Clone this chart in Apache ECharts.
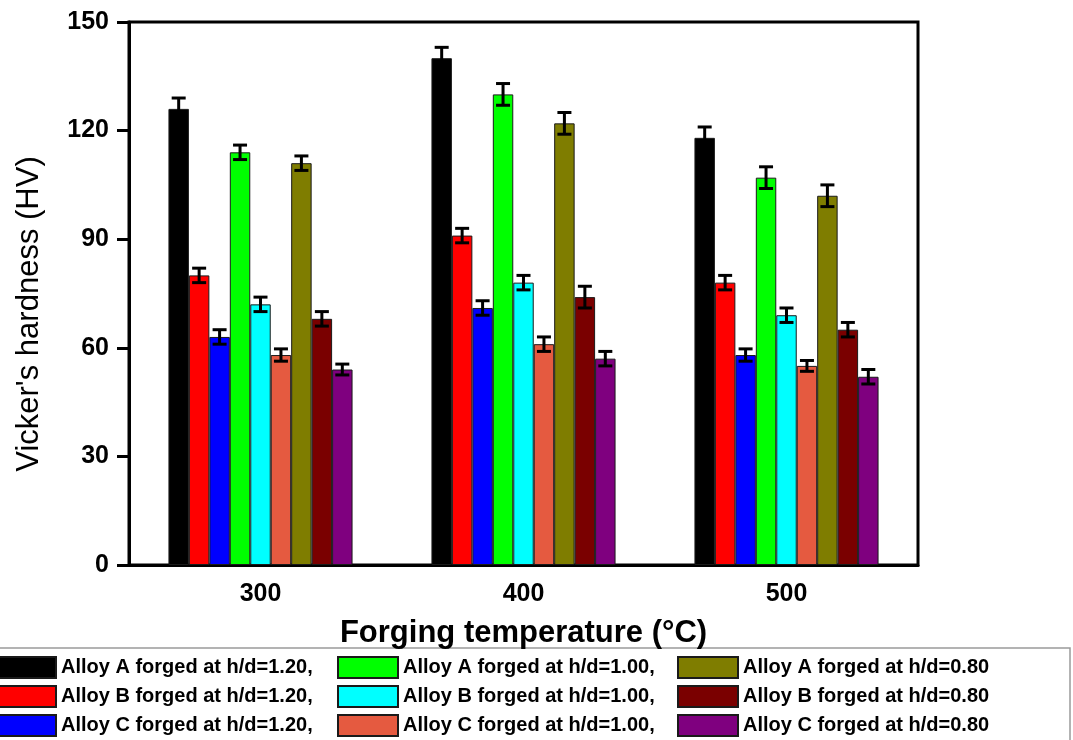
<!DOCTYPE html>
<html>
<head>
<meta charset="utf-8">
<script src="https://cdn.jsdelivr.net/npm/echarts@6/dist/echarts.min.js"></script>
<style>
html,body{margin:0;padding:0;background:#fff;}
#chart{width:1073px;height:740px;}
</style>
</head>
<body>
<div id="chart"></div>
<script>
// ---- data ----
const categories = ['300', '400', '500'];
const seriesNames = [
  'Alloy A forged at h/d=1.20', 'Alloy B forged at h/d=1.20', 'Alloy C forged at h/d=1.20',
  'Alloy A forged at h/d=1.00', 'Alloy B forged at h/d=1.00', 'Alloy C forged at h/d=1.00',
  'Alloy A forged at h/d=0.80', 'Alloy B forged at h/d=0.80', 'Alloy C forged at h/d=0.80'
];
const colors = ['#000000', '#ff0000', '#0000ff', '#00ff00', '#00ffff', '#e55a40', '#7f7d00', '#7a0000', '#7f007f'];
const valuesA120 = [126, 140, 118];
const valuesB120 = [80, 91, 78];
const valuesC120 = [63, 71, 58];
const valuesA100 = [114, 130, 107];
const valuesB100 = [72, 78, 69];
const valuesC100 = [58, 61, 55];
const valuesA080 = [111, 122, 102];
const valuesB080 = [68, 74, 65];
const valuesC080 = [54, 57, 52];
const errA120 = [3, 3, 3];
const errB120 = [2, 2, 2];
const errC120 = [2, 2, 1.7];
const errA100 = [2, 3, 3];
const errB100 = [2, 2, 2];
const errC100 = [1.7, 2, 1.5];
const errA080 = [2, 3, 3];
const errB080 = [2, 3, 2];
const errC080 = [1.5, 2, 2];
const yTicks = [0, 30, 60, 90, 120, 150];
const xTitle = 'Forging temperature (°C)';
const yTitle = "Vicker's hardness (HV)";

const allValues = [valuesA120, valuesB120, valuesC120, valuesA100, valuesB100, valuesC100, valuesA080, valuesB080, valuesC080];
const allErrors = [errA120, errB120, errC120, errA100, errB100, errC100, errA080, errB080, errC080];

const FONT = '"Liberation Sans", Arial, sans-serif';
const CAT_GAP = 0.3;
const N = seriesNames.length;

const barSeries = seriesNames.map((name, i) => ({
  name: name,
  type: 'bar',
  data: allValues[i],
  barGap: '0%',
  barCategoryGap: (CAT_GAP * 100) + '%',
  itemStyle: { color: colors[i], borderColor: '#1a1a1a', borderWidth: 1 },
  z: 2
}));

const errData = [];
allValues.forEach((vals, s) => {
  vals.forEach((v, c) => errData.push([c, s, v, allErrors[s][c]]));
});

const errorSeries = {
  type: 'custom',
  name: 'err',
  z: 5,
  encode: { x: 0, y: 2 },
  data: errData,
  renderItem: function (params, api) {
    const c = api.value(0), s = api.value(1), v = api.value(2), e = api.value(3);
    const center = api.coord([c, 0])[0];
    const band = api.size([1, 0])[0];
    const bw = band * (1 - CAT_GAP) / N;
    const x = center - band * (1 - CAT_GAP) / 2 + bw * (s + 0.5);
    const yt = api.coord([c, v + e])[1];
    const yb = api.coord([c, v - e])[1];
    const h = 7;
    const st = { stroke: '#000', lineWidth: 3 };
    return {
      type: 'group',
      children: [
        { type: 'line', shape: { x1: x, y1: yt, x2: x, y2: yb }, style: st },
        { type: 'line', shape: { x1: x - h, y1: yt, x2: x + h, y2: yt }, style: st },
        { type: 'line', shape: { x1: x - h, y1: yb, x2: x + h, y2: yb }, style: st }
      ]
    };
  }
};

// legend: 3 columns x 3 rows, one legend component per entry
const legendLefts = [-5, 337, 677];
const legendTop = 656;
const legendRowStep = 29;
const legends = seriesNames.map((name, i) => {
  const col = Math.floor(i / 3), row = i % 3;
  return {
    orient: 'horizontal',
    left: legendLefts[col],
    top: legendTop + row * legendRowStep,
    padding: 0,
    itemWidth: 60,
    itemHeight: 21,
    icon: 'rect',
    data: [name],
    formatter: n => col < 2 ? n + ',' : n,
    textStyle: { fontFamily: FONT, fontWeight: 'bold', fontSize: 20, color: '#000' },
    selectedMode: false
  };
});

const chart = echarts.init(document.getElementById('chart'), null, { renderer: 'canvas' });
chart.setOption({
  backgroundColor: '#fff',
  animation: false,
  grid: { left: 129, right: 155, top: 22, bottom: 175, show: true, borderColor: '#000', borderWidth: 3 },
  legend: legends,
  graphic: [{
    type: 'rect',
    shape: { x: -2, y: 648, width: 1072, height: 95 },
    style: { fill: 'none', stroke: '#9a9a9a', lineWidth: 1.5 },
    z: -1
  }, {
    type: 'text',
    x: 29,
    y: 314,
    rotation: Math.PI / 2,
    style: {
      text: yTitle,
      fill: '#000',
      font: 'normal 31px "Liberation Sans", Arial, sans-serif',
      textAlign: 'center',
      textVerticalAlign: 'middle'
    }
  }],
  xAxis: {
    type: 'category',
    data: categories,
    name: xTitle,
    nameLocation: 'middle',
    nameGap: 53,
    nameTextStyle: { fontFamily: FONT, fontWeight: 'bold', fontSize: 31, color: '#000' },
    axisLine: { lineStyle: { color: '#000', width: 3 } },
    axisTick: { alignWithLabel: true, length: 11, lineStyle: { color: '#000', width: 3 } },
    axisLabel: { fontFamily: FONT, fontWeight: 'bold', fontSize: 25, color: '#000', margin: 17 }
  },
  yAxis: {
    type: 'value',
    min: yTicks[0],
    max: yTicks[yTicks.length - 1],
    interval: yTicks[1] - yTicks[0],
    axisLine: { show: true, lineStyle: { color: '#000', width: 3 } },
    axisTick: { show: true, length: 12, lineStyle: { color: '#000', width: 3 } },
    axisLabel: { fontFamily: FONT, fontWeight: 'bold', fontSize: 25, color: '#000', margin: 20 },
    splitLine: { show: false }
  },
  series: barSeries.concat([errorSeries])
});
</script>
</body>
</html>
